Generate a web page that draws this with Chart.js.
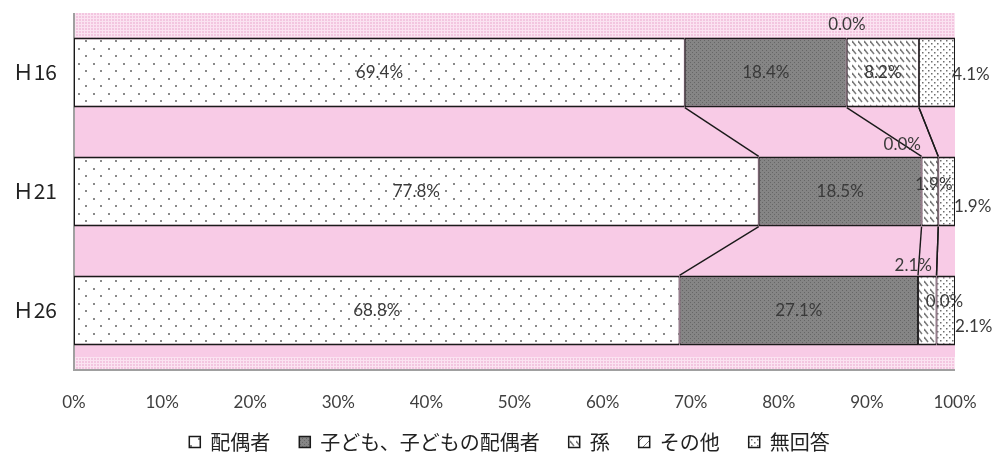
<!DOCTYPE html>
<html>
<head>
<meta charset="utf-8">
<script src="https://cdn.jsdelivr.net/npm/chart.js@4.4.0/dist/chart.umd.min.js"></script>
<style>
  html, body { margin: 0; padding: 0; background: #fff; }
  #wrap { width: 1000px; height: 459px; }
</style>
</head>
<body>
<div id="wrap"><canvas id="chart"></canvas></div>
<script>
const categories = ["Ｈ16", "Ｈ21", "Ｈ26"];
const seriesNames = ["配偶者", "子ども、子どもの配偶者", "孫", "その他", "無回答"];

const spouse = [69.4, 77.8, 68.8];
const children = [18.4, 18.5, 27.1];
const grandchildren = [8.2, 1.9, 2.1];
const others = [0.0, 0.0, 0.0];
const noAnswer = [4.1, 1.9, 2.1];

const PINK = "#F8CBE6";
const JP_FONT = "'Noto Sans CJK JP', 'Noto Sans', sans-serif";
const NUM_FONT = "Lato, 'Noto Sans', sans-serif";

function makePattern(w, h, draw) {
  const c = document.createElement("canvas");
  c.width = w;
  c.height = h;
  const g = c.getContext("2d");
  draw(g);
  return g.createPattern(c, "repeat");
}

const spousePattern = makePattern(15, 15, (g) => {
  g.fillStyle = "#fff";
  g.fillRect(0, 0, 15, 15);
  g.fillStyle = "#8a8a8a";
  g.fillRect(3, 3, 2, 2);
  g.fillRect(10, 10, 2, 2);
});

const childPattern = makePattern(4, 4, (g) => {
  g.fillStyle = "#858585";
  g.fillRect(0, 0, 4, 4);
  g.fillStyle = "#666";
  g.fillRect(0, 0, 1, 1);
  g.fillRect(2, 2, 1, 1);
});

const grandPattern = makePattern(6, 8, (g) => {
  g.fillStyle = "#fff";
  g.fillRect(0, 0, 6, 8);
  g.strokeStyle = "#7a7a7a";
  g.lineWidth = 1.5;
  g.beginPath();
  g.moveTo(0, 1);
  g.lineTo(4, 6);
  g.stroke();
});

const otherPattern = makePattern(10, 10, (g) => {
  g.fillStyle = "#fff";
  g.fillRect(0, 0, 10, 10);
  g.strokeStyle = "#7a7a7a";
  g.lineWidth = 1;
  g.beginPath();
  g.moveTo(0, 10);
  g.lineTo(10, 0);
  g.stroke();
});

const noAnswerPattern = makePattern(6, 6, (g) => {
  g.fillStyle = "#fff";
  g.fillRect(0, 0, 6, 6);
  g.fillStyle = "#6f6f6f";
  g.fillRect(1, 1, 1.5, 1.5);
  g.fillRect(4, 4, 1.5, 1.5);
});

const bandPattern = makePattern(3, 3, (g) => {
  g.fillStyle = "#F3C6E0";
  g.fillRect(0, 0, 3, 3);
  g.fillStyle = "#FBE3F1";
  g.fillRect(0, 0, 3, 1);
  g.fillRect(0, 0, 1, 3);
});

const rawSeries = [spouse, children, grandchildren, others, noAnswer];
const fills = [spousePattern, childPattern, grandPattern, otherPattern, noAnswerPattern];

// Excel 100% stacked: each bar is scaled to its own total
const totals = categories.map((_, i) => rawSeries.reduce((s, arr) => s + arr[i], 0));

// label nudges (dx, dy) for the small segments, keyed "dataset-index"
const labelOffsets = {
  "3-0": [-72, -48],
  "4-0": [34, 2],
  "2-1": [4, -7],
  "3-1": [-36, -47],
  "4-1": [26, 15],
  "2-2": [-14, -45],
  "3-2": [8, -9],
  "4-2": [28, 16],
};

const plotBackground = {
  id: "plotBackground",
  beforeDatasetsDraw(chart) {
    const { ctx, chartArea: a } = chart;
    const first = chart.getDatasetMeta(0).data[0];
    const topEdge = first.y - first.height / 2;
    ctx.save();
    ctx.fillStyle = PINK;
    ctx.fillRect(a.left, a.top, a.right - a.left, a.bottom - a.top);
    ctx.fillStyle = bandPattern;
    ctx.fillRect(a.left, a.top, a.right - a.left, topEdge - a.top);
    ctx.fillRect(a.left, a.bottom - 13, a.right - a.left, 13);
    ctx.strokeStyle = "#a0a0a0";
    ctx.lineWidth = 2;
    ctx.beginPath();
    ctx.moveTo(a.left, a.top);
    ctx.lineTo(a.left, a.bottom);
    ctx.lineTo(a.right, a.bottom);
    ctx.stroke();
    ctx.restore();
  },
};

const seriesLines = {
  id: "seriesLines",
  afterDatasetsDraw(chart) {
    const { ctx } = chart;
    ctx.save();
    ctx.strokeStyle = "#1a1a1a";
    ctx.lineWidth = 1.4;
    for (let d = 0; d < chart.data.datasets.length - 1; d++) {
      const bars = chart.getDatasetMeta(d).data;
      for (let i = 0; i < bars.length - 1; i++) {
        const a = bars[i];
        const b = bars[i + 1];
        ctx.beginPath();
        ctx.moveTo(a.x, a.y + a.height / 2);
        ctx.lineTo(b.x, b.y - b.height / 2);
        ctx.stroke();
      }
    }
    ctx.restore();
  },
};

const segmentLabels = {
  id: "segmentLabels",
  afterDatasetsDraw(chart) {
    const { ctx } = chart;
    ctx.save();
    ctx.font = `17px ${NUM_FONT}`;
    ctx.fillStyle = "#3a3a3a";
    ctx.textAlign = "center";
    ctx.textBaseline = "middle";
    chart.data.datasets.forEach((ds, d) => {
      chart.getDatasetMeta(d).data.forEach((bar, i) => {
        const off = labelOffsets[`${d}-${i}`] || [0, 0];
        const cx = (bar.x + bar.base) / 2 + off[0];
        const cy = bar.y + off[1];
        ctx.fillText(ds.raw[i].toFixed(1) + "%", cx, cy);
      });
    });
    ctx.restore();
  },
};

// Excel centres the legend on the whole picture, not the padded box
const legendShift = {
  id: "legendShift",
  afterLayout(chart) {
    const lg = chart.legend;
    lg.left += 32;
    lg.right += 32;
    lg.top -= 9;
    lg.bottom -= 9;
  },
};

new Chart(document.getElementById("chart"), {
  type: "bar",
  data: {
    labels: categories,
    datasets: seriesNames.map((name, k) => ({
      label: name,
      raw: rawSeries[k],
      data: rawSeries[k].map((v, i) => (v / totals[i]) * 100),
      backgroundColor: fills[k],
      borderColor: "#1a1a1a",
      borderWidth: { top: 2, bottom: 2, left: 1, right: 1 },
      borderSkipped: false,
      barPercentage: 0.59,
      categoryPercentage: 1,
    })),
  },
  options: {
    indexAxis: "y",
    responsive: true,
    maintainAspectRatio: false,
    animation: false,
    layout: { padding: { top: 13, right: 45, left: 0, bottom: -12 } },
    plugins: {
      tooltip: { enabled: false },
      legend: {
        position: "bottom",
        labels: {
          boxWidth: 11,
          boxHeight: 11,
          padding: 29,
          color: "#222",
          font: { family: JP_FONT, size: 20 },
        },
      },
    },
    scales: {
      x: {
        stacked: true,
        min: 0,
        max: 100,
        grid: { display: false, drawTicks: false },
        border: { display: false },
        ticks: {
          stepSize: 10,
          padding: 22,
          color: "#404040",
          font: { family: NUM_FONT, size: 17 },
          callback: (v) => v + "%",
        },
        afterFit: (scale) => { scale.height = 42; },
      },
      y: {
        stacked: true,
        grid: { display: false, drawTicks: false },
        border: { display: false },
        ticks: {
          padding: 17,
          color: "#222",
          font: { family: JP_FONT, size: 21 },
        },
        afterFit: (scale) => {
          scale.width = 74;
          scale.paddingTop = 0;
          scale.paddingBottom = 0;
        },
      },
    },
  },
  plugins: [plotBackground, seriesLines, segmentLabels, legendShift],
});
</script>
</body>
</html>
